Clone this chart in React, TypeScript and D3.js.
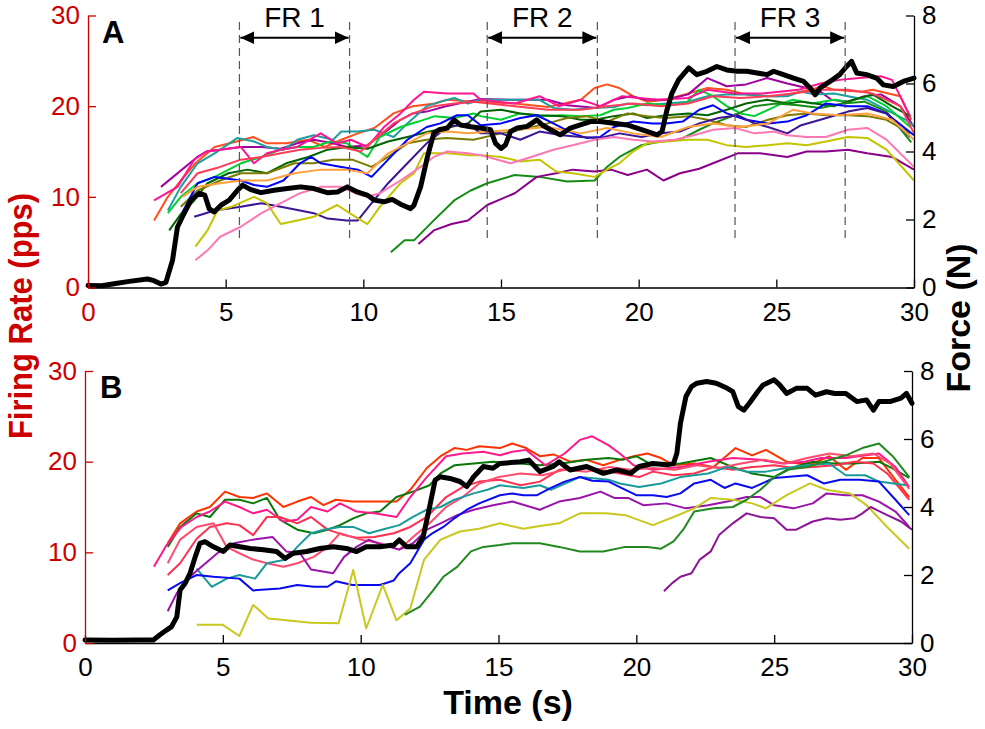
import React, { useEffect, useRef } from "react";
import * as d3 from "d3";

type P = [number, number];

const timeTicks = [0, 5, 10, 15, 20, 25, 30];
const rateTicks = [0, 10, 20, 30];
const forceTicks = [0, 2, 4, 6, 8];

const frWindows = [
  { label: "FR 1", start: 5.5, end: 9.5 },
  { label: "FR 2", start: 14.5, end: 18.5 },
  { label: "FR 3", start: 23.5, end: 27.5 },
];

// panel A: force (N) over time (s)
const topForce: P[] = [
  [0, 0.06], [0.5, 0.05], [1.0, 0.12], [1.5, 0.18], [2.16, 0.25], [2.4, 0.2], [2.65, 0.1], [2.83, 0.15],
  [3.07, 0.8], [3.25, 1.78], [3.43, 2.08], [3.74, 2.57], [4.04, 2.77], [4.24, 2.72], [4.4, 2.32], [4.58, 2.22],
  [4.83, 2.42], [5.13, 2.57], [5.43, 2.86], [5.61, 3.01], [5.91, 2.88], [6.28, 2.79], [6.76, 2.86], [7.24, 2.91],
  [7.72, 2.96], [8.2, 2.91], [8.69, 2.79], [9.06, 2.81], [9.42, 2.96], [9.78, 2.81], [10.14, 2.72], [10.4, 2.57],
  [10.75, 2.52], [11.05, 2.59], [11.35, 2.45], [11.72, 2.32], [11.84, 2.42], [12.08, 2.96], [12.33, 3.85],
  [12.56, 4.54], [12.75, 4.64], [13.05, 4.69], [13.3, 4.93], [13.53, 4.78], [13.9, 4.73], [14.25, 4.69],
  [14.62, 4.64], [14.8, 4.24], [15.0, 4.09], [15.16, 4.19], [15.35, 4.59], [15.59, 4.69], [15.95, 4.74],
  [16.3, 4.93], [16.5, 4.78], [16.8, 4.64], [17.15, 4.49], [17.52, 4.69], [17.88, 4.78], [18.25, 4.88],
  [18.6, 4.88], [19.09, 4.83], [19.58, 4.78], [19.94, 4.69], [20.3, 4.59], [20.67, 4.49], [20.85, 4.59],
  [21.03, 5.23], [21.21, 5.72], [21.45, 6.11], [21.82, 6.46], [22.11, 6.26], [22.48, 6.36], [22.84, 6.5],
  [23.2, 6.4], [23.57, 6.36], [23.93, 6.36], [24.3, 6.31], [24.66, 6.26], [24.9, 6.36], [25.26, 6.26],
  [25.62, 6.16], [25.99, 6.06], [26.23, 5.87], [26.41, 5.67], [26.59, 5.87], [26.95, 6.06], [27.3, 6.26],
  [27.55, 6.5], [27.73, 6.65], [27.92, 6.31], [28.28, 6.26], [28.64, 6.16], [28.89, 5.96], [29.25, 5.91],
  [29.61, 6.06], [30, 6.16],
];

// panel A: firing rates (pps) of each motor unit
const topRates: P[][] = [
  [[2.4, 7.4], [2.9, 10.0], [3.37, 11.8], [3.9, 13.7], [4.6, 15.5], [5.4, 16.1], [6.0, 16.6], [6.5, 15.9], [7.2, 15.9], [8.0, 16.3], [8.6, 15.5], [9.2, 16.3], [9.8, 17.0], [10.4, 17.6], [11.1, 19.2], [11.8, 20.0], [12.6, 20.3], [13.05, 20.7], [14.0, 20.5], [15.5, 20.3], [16.7, 19.9], [17.9, 20.7], [18.4, 22.0], [18.85, 22.4], [19.3, 22.0], [19.8, 21.1], [20.3, 20.5], [21.0, 20.7], [21.8, 21.4], [22.5, 22.0], [23.2, 21.8], [23.9, 21.3], [24.7, 21.1], [25.1, 21.1], [26.2, 21.8], [26.7, 22.2], [27.1, 21.8], [28.1, 21.6], [28.5, 21.8], [29.5, 21.1], [29.9, 18.5]],
  [[2.65, 11.1], [3.97, 14.4], [4.3, 15.0], [5.55, 15.5], [6.3, 15.5], [7.0, 15.3], [7.6, 15.9], [8.2, 16.3], [8.9, 15.9], [9.4, 15.5], [10.15, 15.7], [10.9, 17.4], [11.35, 18.5], [11.8, 19.2], [12.3, 19.4], [13.0, 20.0], [13.8, 20.5], [14.26, 20.8], [15.5, 20.7], [16.7, 20.7], [17.4, 20.1], [18.5, 19.8], [19.1, 20.7], [19.7, 21.1], [20.3, 20.7], [21.0, 20.7], [21.8, 21.3], [22.5, 23.1], [23.2, 22.2], [23.9, 22.4], [24.66, 23.1], [25.4, 22.5], [26.1, 22.0], [26.6, 21.6], [27.0, 20.7], [27.6, 20.5], [28.2, 21.1], [28.8, 21.3], [29.5, 20.0], [30, 17.7]],
  [[2.9, 8.5], [3.37, 11.1], [3.98, 13.7], [4.6, 14.8], [5.43, 16.5], [6.03, 16.1], [6.5, 15.5], [7.1, 15.2], [7.6, 16.3], [8.2, 16.8], [8.9, 16.3], [9.2, 17.2], [9.8, 17.2], [10.4, 17.4], [11.1, 16.6], [11.6, 18.1], [12.3, 20.0], [12.8, 20.5], [13.3, 20.9], [13.8, 20.3], [14.26, 20.7], [15.5, 20.7], [16.4, 20.7], [16.9, 19.8], [17.6, 19.6], [18.4, 19.8], [19.1, 19.9], [19.6, 20.3], [20.3, 20.1], [21.0, 20.3], [21.8, 20.5], [22.5, 21.1], [23.2, 21.3], [23.9, 21.3], [24.66, 21.1], [25.4, 21.1], [25.9, 21.6], [26.4, 21.3], [27.1, 21.4], [27.6, 21.1], [28.3, 20.7], [29.0, 19.6], [29.7, 18.5], [30, 17.8]],
  [[2.9, 8.2], [3.37, 10.0], [3.98, 11.5], [4.6, 12.2], [5.55, 13.7], [6.3, 14.4], [7.0, 15.2], [7.6, 15.5], [8.2, 15.5], [8.8, 16.1], [9.4, 15.9], [10.15, 14.4], [10.6, 16.6], [11.35, 17.7], [12.0, 18.3], [12.6, 18.9], [13.3, 18.7], [14.0, 19.2], [14.26, 18.9], [15.0, 18.5], [15.7, 19.2], [16.4, 18.9], [17.2, 19.0], [17.9, 18.9], [18.6, 19.0], [19.1, 19.6], [19.6, 19.8], [20.3, 20.3], [21.0, 20.1], [21.7, 20.3], [22.2, 21.8], [22.7, 21.1], [23.2, 20.0], [23.7, 19.2], [24.2, 18.9], [24.7, 19.6], [25.2, 20.3], [25.6, 20.7], [26.3, 20.3], [27.1, 20.7], [27.6, 20.5], [28.3, 21.1], [29.0, 20.0], [29.86, 17.7]],
  [[2.95, 6.3], [3.37, 8.1], [3.86, 9.6], [4.34, 11.5], [5.1, 12.6], [5.8, 13.0], [6.5, 12.6], [7.2, 13.7], [8.0, 14.4], [8.7, 15.2], [9.4, 15.5], [10.15, 15.3], [10.9, 16.1], [11.6, 16.6], [12.4, 17.2], [13.0, 17.6], [13.8, 18.1], [14.26, 19.4], [15.0, 19.6], [15.7, 19.2], [16.4, 19.0], [17.2, 18.9], [17.9, 18.5], [18.4, 18.5], [19.1, 18.9], [19.8, 19.2], [20.3, 18.7], [21.0, 19.0], [21.8, 19.2], [22.5, 19.0], [23.2, 19.6], [23.9, 20.3], [24.66, 20.7], [25.4, 20.3], [25.9, 20.5], [26.4, 20.3], [27.1, 20.0], [27.8, 20.7], [28.5, 21.3], [29.2, 20.0], [29.86, 18.9]],
  [[11.0, 3.9], [11.5, 5.2], [11.84, 5.2], [12.56, 7.4], [13.3, 9.6], [13.9, 10.7], [14.5, 11.5], [15.5, 12.4], [16.4, 12.2], [17.4, 11.7], [18.4, 11.8], [18.85, 13.3], [19.3, 14.4], [20.1, 15.7], [20.8, 16.1], [21.5, 16.3], [22.2, 17.4], [22.7, 18.1], [23.4, 18.9], [24.2, 20.0], [25.0, 20.3], [25.8, 20.1], [26.6, 19.8], [27.4, 20.3], [28.2, 20.5], [29.0, 19.4], [29.9, 16.0]],
  [[12.0, 4.8], [12.56, 6.3], [13.2, 7.0], [13.8, 7.4], [14.5, 9.1], [15.5, 10.4], [16.3, 12.2], [17.0, 12.6], [17.6, 13.0], [18.4, 12.8], [19.0, 13.0], [19.6, 12.4], [20.3, 13.0], [20.9, 11.8], [21.5, 12.6], [22.2, 13.1], [22.7, 13.7], [23.6, 14.8], [24.4, 14.8], [25.4, 14.4], [26.1, 15.0], [26.8, 15.0], [27.6, 15.2], [28.3, 14.8], [29.2, 14.4], [30, 13.0]],
  [[3.37, 8.9], [3.98, 10.7], [4.8, 11.8], [5.55, 12.6], [6.5, 12.6], [7.5, 13.7], [8.2, 13.7], [8.9, 14.1], [9.6, 14.1], [10.3, 13.3], [10.9, 14.4], [11.6, 15.9], [12.3, 16.3], [13.0, 16.5], [14.0, 16.3], [15.0, 17.0], [15.7, 17.4], [16.7, 18.1], [17.4, 18.7], [18.1, 18.9], [18.85, 18.3], [19.6, 19.2], [20.3, 18.9], [21.0, 18.7], [21.8, 18.9], [22.5, 18.5], [23.2, 17.9], [23.9, 17.7], [24.7, 18.5], [25.4, 19.0], [26.1, 19.2], [26.8, 19.0], [27.6, 19.0], [28.3, 18.9], [29.0, 18.5], [29.86, 17.0]],
  [[3.43, 8.3], [3.98, 11.5], [4.6, 12.2], [5.55, 11.8], [6.03, 11.3], [6.5, 11.1], [7.1, 11.8], [7.7, 13.7], [8.1, 14.4], [8.45, 13.7], [9.2, 13.3], [9.8, 13.0], [10.3, 12.2], [10.9, 14.1], [11.6, 16.3], [12.3, 17.7], [12.8, 18.1], [13.4, 19.0], [13.8, 19.0], [14.26, 17.9], [15.0, 18.1], [15.7, 18.7], [16.3, 19.0], [16.9, 18.1], [17.6, 17.0], [18.1, 16.5], [18.6, 16.6], [19.1, 17.7], [19.8, 18.3], [20.5, 18.1], [21.0, 18.1], [21.6, 18.3], [22.2, 19.6], [22.7, 20.1], [23.2, 19.2], [23.9, 18.5], [24.7, 18.1], [25.4, 18.3], [26.1, 19.0], [26.8, 20.3], [27.6, 20.0], [28.3, 20.0], [29.0, 19.2], [30, 16.8]],
  [[3.86, 7.8], [4.6, 8.5], [5.55, 8.9], [6.3, 9.3], [7.0, 8.9], [7.7, 8.5], [8.2, 8.2], [8.7, 7.6], [9.4, 7.4], [9.8, 7.4], [10.3, 9.3], [10.9, 11.5], [11.6, 13.7], [12.3, 15.9], [13.05, 17.7], [13.8, 18.1], [14.26, 17.0], [15.0, 17.0], [15.7, 16.3], [16.4, 17.2], [17.2, 16.8], [17.9, 16.6], [18.6, 16.5], [19.3, 17.0], [20.1, 16.6], [20.8, 17.0], [21.5, 17.2], [22.2, 18.1], [22.9, 18.7], [23.6, 19.0], [24.2, 18.1], [24.7, 17.7], [25.4, 17.0], [25.9, 17.9], [26.6, 18.5], [27.6, 19.4], [28.3, 19.8], [29.0, 19.2], [29.86, 16.6]],
  [[3.9, 4.5], [4.34, 6.3], [4.7, 8.5], [5.2, 8.9], [6.03, 10.0], [6.5, 9.3], [7.0, 7.0], [7.6, 7.4], [8.2, 7.8], [9.05, 9.1], [9.5, 8.2], [10.15, 7.0], [10.6, 8.9], [11.35, 11.5], [11.84, 12.6], [12.2, 14.8], [12.56, 14.8], [13.05, 14.8], [13.8, 14.6], [14.26, 14.6], [15.0, 14.4], [15.7, 13.9], [16.4, 14.1], [17.0, 12.8], [17.6, 12.6], [18.4, 12.2], [18.85, 13.0], [19.3, 13.7], [19.8, 15.0], [20.3, 15.9], [21.0, 16.1], [21.8, 16.3], [22.5, 16.3], [23.2, 15.7], [23.9, 15.5], [24.7, 15.7], [25.4, 15.9], [26.1, 15.7], [26.8, 16.1], [27.6, 16.6], [28.3, 16.5], [29.0, 15.2], [30, 11.8]],
  [[3.9, 3.0], [4.34, 4.1], [4.8, 5.6], [5.55, 6.7], [6.3, 8.2], [7.0, 9.3], [7.7, 10.4], [8.45, 11.1], [9.2, 11.1], [9.7, 10.4], [10.15, 10.0], [10.6, 10.4], [11.35, 11.8], [12.08, 13.3], [12.56, 14.4], [13.05, 15.0], [13.8, 14.8], [14.26, 14.6], [15.35, 13.7], [16.1, 14.4], [16.9, 15.2], [17.6, 15.7], [18.4, 16.3], [19.1, 16.6], [19.8, 16.3], [20.5, 16.1], [21.3, 16.3], [22.0, 16.8], [22.7, 17.4], [23.5, 17.6], [24.2, 17.0], [24.9, 17.2], [25.4, 16.8], [26.1, 16.6], [26.8, 16.6], [27.6, 17.4], [28.3, 17.6], [29.0, 16.3], [30, 13.3]],
  [[2.4, 9.6], [3.25, 11.1], [3.86, 14.1], [4.3, 15.0], [4.8, 15.2], [5.55, 15.5], [6.03, 13.7], [6.5, 14.8], [7.0, 15.2], [7.6, 15.5], [8.45, 17.0], [9.05, 15.9], [9.55, 16.3], [10.15, 15.5], [10.75, 17.7], [11.35, 19.2], [11.84, 20.7], [12.2, 21.6], [13.05, 21.4], [14.0, 21.4], [14.26, 20.7], [15.5, 20.3], [16.4, 21.1], [17.1, 20.0], [17.9, 20.7], [18.6, 20.0], [19.4, 21.1], [20.0, 20.9], [20.7, 20.7], [21.8, 20.9], [22.5, 21.8], [23.5, 21.4], [24.5, 21.4], [25.8, 21.8], [26.6, 22.5], [27.3, 22.9], [28.0, 23.1], [28.8, 23.3], [29.2, 22.9], [29.86, 18.9]],
  [[3.37, 10.4], [3.98, 12.6], [4.8, 13.3], [5.55, 14.1], [6.3, 14.4], [7.0, 14.8], [7.7, 15.2], [8.45, 15.4], [9.2, 15.5], [9.9, 15.0], [10.4, 16.3], [11.1, 18.1], [11.8, 19.2], [12.56, 20.0], [13.3, 20.3], [14.0, 20.5], [15.5, 20.0], [16.7, 19.6], [17.9, 19.6], [18.85, 20.0], [19.8, 20.3], [20.8, 20.0], [21.8, 20.3], [22.7, 21.1], [23.7, 20.9], [24.66, 21.1], [25.6, 21.4], [26.6, 21.8], [27.6, 21.8], [28.5, 21.4], [29.5, 20.0], [30, 17.0]],
  [[3.43, 10.0], [3.98, 11.1], [4.8, 11.5], [5.55, 11.8], [6.5, 11.8], [7.5, 12.6], [8.45, 13.0], [9.4, 13.0], [10.15, 12.6], [10.9, 14.8], [11.6, 15.9], [12.3, 17.0], [13.05, 17.2], [13.8, 17.0], [15.5, 17.4], [16.7, 17.7], [17.9, 17.0], [18.85, 17.6], [19.8, 17.0], [20.8, 16.6], [21.8, 17.7], [22.7, 18.1], [23.7, 17.7], [24.7, 18.1], [25.6, 19.6], [26.3, 19.2], [27.3, 19.0], [28.3, 19.2], [29.2, 18.5], [30, 16.3]],
];

const topColors = [
  "#ff4f1a", "#a000a0", "#1f9e9e", "#00d030", "#006400", "#148c14", "#8b008b", "#7b7b00",
  "#0000ff", "#3c1496", "#c4c400", "#ff78b4", "#ff1493", "#ff3c5a", "#ffa03c",
];

// panel B: force (N) over time (s)
const bottomForce: P[] = [
  [0, 0.09], [1.0, 0.08], [2.0, 0.09], [2.48, 0.09], [2.72, 0.24], [2.96, 0.38], [3.14, 0.48], [3.33, 0.77],
  [3.45, 1.56], [3.63, 1.75], [3.81, 2.05], [4.0, 2.54], [4.17, 2.93], [4.35, 2.98], [4.66, 2.83], [5.02, 2.69],
  [5.26, 2.88], [5.62, 2.83], [5.99, 2.78], [6.47, 2.74], [6.95, 2.69], [7.26, 2.49], [7.56, 2.64], [8.04, 2.69],
  [8.52, 2.78], [9.0, 2.83], [9.49, 2.78], [9.85, 2.69], [10.2, 2.83], [10.7, 2.83], [11.2, 2.88], [11.4, 3.03],
  [11.67, 2.83], [12.03, 2.83], [12.27, 3.13], [12.5, 4.0], [12.7, 4.79], [12.88, 4.89], [13.24, 4.84],
  [13.6, 4.75], [13.85, 4.6], [14.1, 4.89], [14.45, 5.19], [14.8, 5.14], [15.05, 5.28], [15.8, 5.33],
  [16.1, 5.38], [16.5, 5.04], [16.98, 5.19], [17.2, 5.33], [17.6, 5.09], [18.2, 5.19], [18.8, 4.99],
  [19.3, 5.09], [19.8, 4.99], [20.1, 5.19], [20.6, 5.28], [21.1, 5.24], [21.35, 5.28], [21.47, 5.58],
  [21.6, 6.46], [21.8, 7.25], [22.0, 7.54], [22.2, 7.64], [22.55, 7.69], [22.9, 7.64], [23.3, 7.49],
  [23.5, 7.39], [23.7, 6.95], [23.9, 6.85], [24.1, 7.05], [24.4, 7.39], [24.6, 7.59], [25.0, 7.74],
  [25.2, 7.59], [25.45, 7.34], [25.8, 7.49], [26.2, 7.49], [26.5, 7.29], [26.9, 7.39], [27.2, 7.34],
  [27.6, 7.34], [28.0, 7.1], [28.35, 7.15], [28.6, 6.85], [28.8, 7.1], [29.2, 7.1], [29.6, 7.2], [29.8, 7.34],
  [30, 7.05],
];

// panel B: firing rates (pps) of each motor unit
const bottomRates: P[][] = [
  [[3.0, 11.0], [3.45, 13.2], [4.05, 14.5], [4.53, 15.0], [5.08, 16.7], [5.6, 16.1], [6.1, 16.0], [6.6, 16.5], [7.2, 15.0], [7.7, 15.6], [8.2, 16.1], [8.65, 15.2], [9.1, 15.8], [9.7, 15.6], [10.5, 15.6], [11.3, 15.6], [11.8, 16.9], [12.4, 19.3], [12.9, 20.6], [13.4, 21.5], [13.85, 21.3], [14.3, 21.7], [15.05, 21.5], [15.5, 22.0], [16.0, 21.5], [16.5, 20.6], [17.0, 20.8], [17.6, 20.0], [18.2, 20.2], [18.8, 19.6], [19.4, 20.2], [19.9, 20.6], [20.4, 20.9], [20.9, 20.4], [21.35, 19.6], [22.1, 19.8], [22.8, 19.4], [23.6, 21.5], [24.2, 20.7], [24.7, 21.3], [25.45, 20.0], [25.9, 19.8], [26.4, 19.8], [27.0, 20.6], [27.6, 19.1], [28.2, 20.4], [28.8, 20.4], [29.4, 18.0], [29.9, 16.1]],
  [[3.0, 10.6], [3.45, 12.8], [4.05, 14.3], [4.53, 13.9], [5.08, 15.8], [5.6, 15.8], [6.1, 15.4], [6.6, 16.0], [7.07, 13.6], [7.7, 12.5], [8.3, 12.1], [8.8, 12.5], [9.25, 13.0], [9.73, 13.75], [10.2, 14.3], [10.7, 14.5], [11.3, 16.1], [11.9, 16.7], [12.5, 17.4], [12.9, 18.7], [13.4, 19.6], [14.1, 19.8], [14.8, 20.0], [15.8, 19.8], [16.5, 19.6], [17.3, 19.8], [18.2, 20.2], [19.0, 20.4], [19.5, 20.2], [20.0, 20.6], [20.6, 19.6], [21.6, 19.8], [22.7, 20.4], [23.5, 19.4], [24.2, 18.7], [25.0, 18.3], [25.7, 19.4], [26.4, 20.0], [27.2, 19.8], [27.9, 19.8], [28.8, 20.0], [29.4, 19.1], [29.9, 18.2]],
  [[2.5, 8.4], [2.96, 10.8], [3.5, 12.8], [4.05, 13.9], [4.53, 14.5], [5.08, 15.6], [5.6, 15.0], [6.1, 14.3], [6.6, 14.7], [7.2, 13.4], [7.7, 13.6], [8.2, 15.0], [8.8, 14.5], [9.25, 15.4], [9.85, 14.5], [10.5, 14.3], [11.3, 13.9], [11.8, 16.1], [12.4, 18.3], [13.1, 20.6], [13.7, 20.9], [14.45, 21.1], [15.05, 20.7], [15.5, 21.1], [16.0, 21.3], [16.7, 19.6], [17.4, 20.9], [17.95, 22.4], [18.4, 22.8], [19.0, 21.8], [19.4, 20.9], [19.9, 19.6], [20.6, 19.1], [21.6, 19.4], [22.6, 20.0], [23.5, 20.4], [24.5, 20.2], [25.3, 19.8], [26.1, 20.0], [26.7, 20.4], [27.6, 20.4], [28.35, 20.7], [28.8, 20.9], [29.4, 19.4], [29.9, 17.2]],
  [[3.0, 7.5], [3.45, 8.8], [4.05, 11.5], [4.53, 12.8], [5.14, 13.2], [5.6, 13.0], [6.1, 11.9], [6.6, 13.9], [7.07, 13.9], [7.7, 13.2], [8.2, 13.9], [8.8, 12.5], [9.4, 11.9], [9.85, 11.6], [10.5, 11.7], [11.2, 12.1], [11.8, 12.8], [12.4, 13.9], [13.1, 16.1], [13.7, 17.2], [14.3, 17.8], [15.05, 18.0], [15.8, 17.4], [16.5, 17.8], [17.2, 19.1], [17.95, 19.3], [18.7, 19.1], [19.4, 18.7], [20.1, 18.3], [20.6, 18.9], [21.35, 18.5], [22.1, 18.7], [22.8, 19.4], [23.5, 19.1], [24.2, 19.4], [25.0, 19.6], [25.7, 19.3], [26.4, 19.4], [27.2, 19.6], [27.9, 20.0], [28.6, 19.8], [29.1, 18.7], [29.9, 15.8]],
  [[3.0, 8.8], [3.45, 11.4], [4.05, 12.8], [4.66, 13.2], [5.14, 10.6], [5.6, 9.9], [6.1, 9.2], [6.6, 8.8], [7.2, 8.4], [7.7, 8.8], [8.3, 9.5], [8.8, 10.6], [9.25, 12.1], [10.0, 11.4], [10.7, 11.0], [11.4, 10.3], [11.9, 11.7], [12.5, 13.2], [13.1, 15.0], [13.7, 16.1], [14.3, 17.6], [15.0, 18.3], [15.8, 18.7], [16.6, 18.5], [17.4, 19.1], [18.2, 18.9], [19.0, 19.4], [19.8, 19.1], [20.6, 19.3], [21.4, 19.1], [22.2, 19.6], [23.0, 19.3], [23.8, 19.8], [24.6, 20.2], [25.4, 19.8], [26.2, 20.4], [27.0, 20.9], [27.8, 20.6], [28.6, 20.9], [29.2, 19.8], [29.9, 17.0]],
  [[4.05, 8.2], [4.6, 6.2], [5.14, 7.1], [5.6, 7.5], [6.17, 7.1], [6.6, 8.8], [7.3, 9.2], [7.7, 10.6], [8.2, 12.1], [8.65, 12.5], [9.25, 12.8], [9.73, 12.8], [10.3, 12.1], [10.9, 12.6], [11.4, 13.0], [11.9, 13.9], [12.4, 14.7], [12.9, 15.0], [13.4, 15.8], [14.1, 16.5], [14.6, 16.9], [15.05, 17.4], [15.9, 17.1], [16.5, 17.4], [16.9, 16.9], [17.95, 18.3], [19.0, 18.0], [19.4, 17.6], [20.1, 17.2], [20.9, 17.6], [21.6, 18.3], [22.6, 18.7], [23.3, 19.4], [24.0, 18.9], [24.7, 18.9], [25.45, 19.3], [26.2, 19.6], [27.0, 19.8], [27.6, 18.5], [28.3, 18.5], [28.8, 17.8], [29.8, 17.4]],
  [[3.0, 3.5], [3.33, 5.5], [3.8, 7.3], [4.3, 8.6], [4.8, 9.9], [5.4, 11.0], [6.1, 11.4], [6.8, 11.7], [7.3, 10.1], [7.8, 9.9], [8.2, 8.1], [9.0, 7.7], [9.4, 9.5], [9.85, 10.6], [10.3, 11.4], [10.8, 10.8], [11.4, 10.3], [11.9, 11.0], [12.4, 12.5], [12.9, 13.2], [13.5, 14.1], [14.1, 14.7], [14.8, 15.2], [15.5, 15.6], [16.5, 14.7], [17.2, 15.6], [17.95, 16.0], [18.7, 16.7], [19.2, 16.0], [19.7, 16.0], [20.25, 15.2], [21.1, 15.4], [21.8, 14.85], [22.6, 15.2], [23.3, 15.6], [24.0, 16.1], [24.5, 16.1], [25.0, 15.2], [25.7, 14.85], [26.4, 15.4], [26.9, 16.5], [27.6, 16.3], [28.2, 16.3], [28.8, 15.6], [29.4, 14.5], [29.9, 12.8]],
  [[3.0, 5.8], [3.45, 6.6], [4.05, 7.5], [4.66, 7.3], [5.6, 7.1], [6.1, 5.8], [7.07, 6.0], [7.7, 6.4], [8.3, 6.2], [8.8, 6.2], [9.1, 6.8], [9.7, 6.4], [10.2, 6.4], [10.7, 6.4], [11.2, 6.9], [11.4, 7.7], [11.8, 8.8], [12.3, 11.4], [12.6, 12.1], [13.0, 12.8], [13.4, 13.75], [13.85, 14.7], [14.3, 15.4], [15.05, 16.3], [15.5, 16.5], [15.9, 16.3], [16.4, 16.3], [16.9, 17.1], [17.4, 17.8], [17.95, 18.3], [18.4, 17.9], [19.0, 17.8], [19.4, 17.2], [20.0, 16.3], [20.6, 16.3], [21.1, 16.1], [21.6, 16.5], [22.1, 17.6], [22.7, 18.0], [23.2, 17.1], [23.6, 17.6], [24.2, 17.1], [25.0, 18.2], [25.45, 18.3], [26.2, 18.5], [26.8, 17.6], [27.4, 18.0], [28.1, 18.0], [28.8, 17.8], [29.4, 15.8], [29.9, 14.1]],
  [[4.05, 2.0], [5.0, 2.0], [5.6, 0.77], [6.1, 4.2], [6.65, 2.7], [7.3, 2.5], [8.2, 2.24], [9.2, 2.17], [9.73, 8.05], [10.2, 1.6], [10.8, 6.4], [11.3, 2.5], [11.8, 3.8], [12.3, 9.2], [12.9, 11.4], [13.6, 12.3], [14.3, 12.6], [15.05, 13.2], [15.9, 12.6], [16.5, 12.9], [17.2, 13.2], [17.95, 14.3], [18.9, 14.3], [19.6, 14.1], [20.6, 13.0], [21.35, 13.9], [22.1, 14.85], [22.7, 16.0], [23.5, 15.8], [24.2, 15.4], [24.7, 14.85], [25.45, 16.3], [26.3, 17.6], [26.9, 16.9], [27.75, 16.5], [28.35, 15.2], [29.1, 12.8], [29.9, 10.4]],
  [[11.6, 3.1], [12.15, 4.0], [12.6, 5.7], [13.0, 7.3], [13.5, 8.4], [14.0, 10.1], [14.45, 10.6], [15.05, 10.8], [15.5, 11.0], [16.5, 11.0], [17.2, 10.6], [17.95, 10.1], [18.8, 10.1], [19.6, 10.6], [20.4, 10.6], [20.9, 10.4], [21.35, 11.2], [21.7, 12.5], [22.1, 14.5], [22.8, 14.85], [23.5, 15.0], [24.0, 15.8], [24.5, 16.9], [25.0, 18.3], [25.45, 19.1], [26.2, 19.4], [26.8, 20.0], [27.6, 20.7], [28.2, 21.5], [28.8, 22.0], [29.3, 20.6], [29.9, 18.3]],
  [[21.0, 5.7], [21.3, 6.6], [21.6, 7.3], [22.0, 7.7], [22.3, 9.2], [22.7, 10.1], [23.0, 11.9], [23.5, 13.2], [24.0, 14.3], [24.5, 13.9], [25.0, 13.75], [25.45, 12.5], [25.8, 12.5], [26.4, 13.4], [26.9, 13.75], [27.4, 13.6], [27.9, 13.75], [28.2, 14.3], [28.5, 15.0], [29.1, 14.1], [29.6, 13.4], [30, 12.5]],
];

const bottomColors = [
  "#ff3300", "#087808", "#ff1a8c", "#ff3050", "#ff4b6e", "#1a9a9a", "#9a14aa", "#0a0af0",
  "#c8c81e", "#208a20", "#8c1496",
];

const RED = "#cc0000";
const FONT = "Arial, 'Liberation Sans', Helvetica, sans-serif";

function Panel({ frame, force, rates, colors, letter, letterPos, zeroRed, windows }) {
  const xRef = useRef(null);
  const lRef = useRef(null);
  const rRef = useRef(null);

  const x = d3.scaleLinear().domain([0, 30]).range([frame.left, frame.right]);
  const yRate = d3.scaleLinear().domain([0, 30]).range([frame.bottom, frame.top]);
  const yForce = d3.scaleLinear().domain([0, 8]).range([frame.bottom, frame.top]);
  const rateLine = d3.line<P>().x(d => x(d[0])).y(d => yRate(d[1]));
  const forceLine = d3.line<P>().x(d => x(d[0])).y(d => yForce(d[1]));

  useEffect(() => {
    const gx = d3.select(xRef.current);
    gx.call(d3.axisBottom(x).tickValues(timeTicks).tickSizeInner(-8).tickSizeOuter(0).tickPadding(15));
    gx.attr("font-size", 26).attr("font-family", FONT);
    gx.selectAll("path, line").attr("stroke", "#000").attr("stroke-width", 1.3);
    gx.selectAll(".tick text").attr("fill", d => (zeroRed && d === 0 ? RED : "#000"));

    const gl = d3.select(lRef.current);
    gl.call(d3.axisLeft(yRate).tickValues(rateTicks).tickSizeInner(-8).tickSizeOuter(0).tickPadding(8));
    gl.attr("font-size", 26).attr("font-family", FONT);
    gl.selectAll("path, line").attr("stroke", RED).attr("stroke-width", 1.3);
    gl.selectAll(".tick text").attr("fill", RED);

    const gr = d3.select(rRef.current);
    gr.call(d3.axisRight(yForce).tickValues(forceTicks).tickSizeInner(-8).tickSizeOuter(0).tickPadding(8));
    gr.attr("font-size", 26).attr("font-family", FONT);
    gr.selectAll("path, line").attr("stroke", "#000").attr("stroke-width", 1.3);
    gr.selectAll(".tick text").attr("fill", "#000");
  }, []);

  return (
    <g>
      {rates.map((pts, i) => (
        <path key={i} d={rateLine(pts)} fill="none" stroke={colors[i]} strokeWidth={2} strokeLinejoin="round" />
      ))}
      <path d={forceLine(force)} fill="none" stroke="#000" strokeWidth={5} strokeLinejoin="round" strokeLinecap="round" />
      <g ref={xRef} transform={`translate(0,${frame.bottom})`} />
      <g ref={lRef} transform={`translate(${frame.left},0)`} />
      <g ref={rRef} transform={`translate(${frame.right},0)`} />
      {windows.map(w => (
        <g key={w.label}>
          {[w.start, w.end].map(t => (
            <line key={t} x1={x(t)} x2={x(t)} y1={22} y2={238} stroke="#555" strokeWidth={1.2} strokeDasharray="8,5" />
          ))}
          <line x1={x(w.start) + 1} x2={x(w.end) - 1} y1={37.7} y2={37.7} stroke="#000" strokeWidth={2}
            markerStart="url(#arrow)" markerEnd="url(#arrow)" />
          <text x={(x(w.start) + x(w.end)) / 2} y={27} textAnchor="middle" fontSize={28} fontFamily={FONT}>{w.label}</text>
        </g>
      ))}
      <text x={letterPos[0]} y={letterPos[1]} fontSize={31} fontWeight="bold" fontFamily={FONT}>{letter}</text>
    </g>
  );
}

export default function App() {
  return (
    <div style={{ position: "absolute", left: 0, top: 0 }}>
      <svg width={985} height={729} style={{ display: "block", background: "#fff" }}>
        <defs>
          <marker id="arrow" markerUnits="userSpaceOnUse" markerWidth={15} markerHeight={13} refX={14} refY={6.5}
            orient="auto-start-reverse">
            <path d="M0,0 L14,6.5 L0,13 z" fill="#000" />
          </marker>
        </defs>
        <Panel frame={{ left: 88, right: 914, top: 15.5, bottom: 287.5 }} force={topForce} rates={topRates}
          colors={topColors} letter="A" letterPos={[102, 43]} zeroRed={true} windows={frWindows} />
        <Panel frame={{ left: 85, right: 912, top: 371, bottom: 643 }} force={bottomForce} rates={bottomRates}
          colors={bottomColors} letter="B" letterPos={[100, 398]} zeroRed={false} windows={[]} />
        <text transform="translate(32,316) rotate(-90) scale(1,1.1)" textAnchor="middle" fontSize={31} fontWeight="bold"
          fontFamily={FONT} fill={RED}>Firing Rate (pps)</text>
        <text transform="translate(970,318) rotate(-90)" textAnchor="middle" fontSize={34} fontWeight="bold"
          fontFamily={FONT} fill="#000">Force (N)</text>
        <text x={508} y={714} textAnchor="middle" fontSize={34} fontWeight="bold" fontFamily={FONT}>Time (s)</text>
      </svg>
    </div>
  );
}
